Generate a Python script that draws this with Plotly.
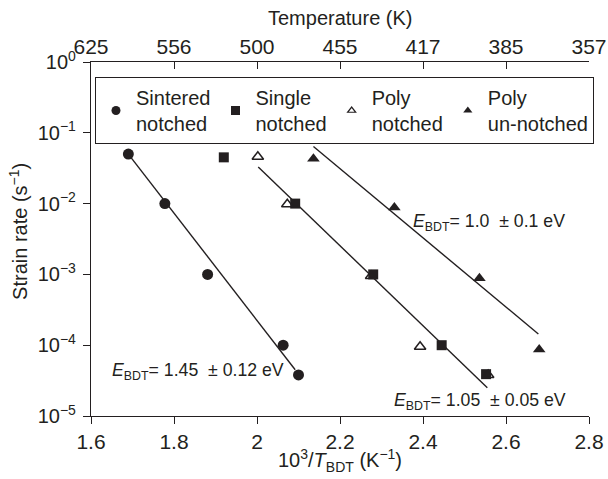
import plotly.graph_objects as go

# ---------------- data ----------------
sint_x = [1.690, 1.778, 1.881, 2.063, 2.100]
sint_y = [0.050, 0.010, 0.0010, 1.0e-4, 3.8e-5]
single_x = [1.920, 2.092, 2.280, 2.445, 2.552]
single_y = [0.045, 0.0100, 0.0010, 1.0e-4, 3.9e-5]
polyn_x = [2.002, 2.073, 2.275, 2.393, 2.557]
polyn_y = [0.046, 0.0098, 9.5e-4, 9.5e-5, 3.8e-5]
polyu_x = [2.136, 2.331, 2.536, 2.680]
polyu_y = [0.043, 0.0088, 8.8e-4, 8.7e-5]

# fitted lines (end points)
sint_fit_x = [1.690, 2.092]
sint_fit_y = [0.050, 4.5e-5]
single_fit_x = [2.003, 2.555]
single_fit_y = [0.033, 2.5e-5]
polyu_fit_x = [2.136, 2.678]
polyu_fit_y = [0.064, 1.44e-4]

x_ticks = [1.6, 1.8, 2.0, 2.2, 2.4, 2.6, 2.8]
x_ticktext = ["1.6", "1.8", "2", "2.2", "2.4", "2.6", "2.8"]
temp_ticktext = ["625", "556", "500", "455", "417", "385", "357"]
y_ticks = [1e-5, 1e-4, 1e-3, 1e-2, 1e-1, 1e0]
y_ticktext = ["10<sup>\u22125</sup>", "10<sup>\u22124</sup>", "10<sup>\u22123</sup>",
              "10<sup>\u22122</sup>", "10<sup>\u22121</sup>", "10<sup>0</sup>"]

labels = ["Sintered<br>notched", "Single<br>notched", "Poly<br>notched", "Poly<br>un-notched"]

FONT = "Liberation Sans, Arial, sans-serif"
BLACK = "#231f20"

fig = go.Figure()

# fit lines
for fx, fy in [(sint_fit_x, sint_fit_y), (single_fit_x, single_fit_y), (polyu_fit_x, polyu_fit_y)]:
    fig.add_trace(go.Scatter(x=fx, y=fy, mode="lines", line=dict(color=BLACK, width=1.4),
                             showlegend=False, hoverinfo="skip"))

# data markers
series = [
    (sint_x, sint_y, "circle", 11, BLACK, 0),
    (single_x, single_y, "square", 10, BLACK, 0),
    (polyn_x, polyn_y, "triangle-up-open", 10, BLACK, 1.5),
    (polyu_x, polyu_y, "triangle-up", 11, BLACK, 0),
]
for (sx, sy, sym, sz, col, lw) in series:
    fig.add_trace(go.Scatter(x=sx, y=sy, mode="markers",
                             marker=dict(symbol=sym, size=sz, color=col,
                                         line=dict(color=BLACK, width=lw)),
                             showlegend=False))

# legend-only entries
leg_sizes = [9, 9, 7, 8]
for (sx, sy, sym, sz, col, lw), lab, ls in zip(series, labels, leg_sizes):
    fig.add_trace(go.Scatter(x=[None], y=[None], mode="markers", name=lab,
                             marker=dict(symbol=sym, size=ls, color=col,
                                         line=dict(color=BLACK, width=1.2 if lw else 0))))

# dummy trace for top axis
fig.add_trace(go.Scatter(x=[x_ticks[0]], y=[1e-5], xaxis="x2", mode="markers",
                         marker=dict(opacity=0), showlegend=False, hoverinfo="skip"))

ann_font = dict(family=FONT, size=17.7, color=BLACK)
annotations = [
    dict(x=2.371, y=-2.27, text="<i>E</i><sub>BDT</sub>= 1.0\u00a0\u00a0\u00b1 0.1 eV"),
    dict(x=1.646, y=-4.374, text="<i>E</i><sub>BDT</sub>= 1.45\u00a0\u00a0\u00b1 0.12 eV"),
    dict(x=2.326, y=-4.80, text="<i>E</i><sub>BDT</sub>= 1.05\u00a0\u00a0\u00b1 0.05 eV"),
]
for a in annotations:
    a.update(xref="x", yref="y", xanchor="left", yanchor="middle", showarrow=False, font=ann_font)

title_font = dict(family=FONT, size=20, color=BLACK)
annotations += [
    dict(text="10<sup>3</sup>/<i>T</i><sub>BDT</sub> (K<sup>\u22121</sup>)", xref="paper", yref="paper",
         x=0.5, y=0, yshift=-44, xanchor="center", yanchor="middle", showarrow=False, font=title_font),
    dict(text="Temperature (K)", xref="paper", yref="paper",
         x=0.5, y=1, yshift=44, xanchor="center", yanchor="middle", showarrow=False, font=title_font),
    dict(text="Strain rate (s<sup>\u22121</sup>)", xref="paper", yref="paper", textangle=-90,
         x=0, xshift=-72, y=0.52, xanchor="center", yanchor="middle", showarrow=False, font=title_font),
]

axis_common = dict(showline=True, linecolor=BLACK, linewidth=1.3,
                   tickwidth=1.3, tickcolor=BLACK, ticklen=7,
                   showgrid=False, zeroline=False, automargin=False)

fig.update_layout(
    width=608, height=479,
    margin=dict(l=91, r=19, t=62, b=63, autoexpand=False),
    paper_bgcolor="white", plot_bgcolor="white",
    font=dict(family=FONT, size=18, color=BLACK),
    showlegend=True,
    legend=dict(orientation="h", x=0.008, y=0.9576, xanchor="left", yanchor="top",
                bgcolor="white", bordercolor=BLACK, borderwidth=1,
                font=dict(family=FONT, size=20, color=BLACK),
                valign="middle", itemclick=False, itemwidth=30),
    xaxis=dict(range=[1.6, 2.8], tickvals=x_ticks, ticktext=x_ticktext,
               mirror=False, ticks="outside", tickfont=dict(size=21), **axis_common),
    xaxis2=dict(range=[1.6, 2.8], overlaying="x", side="top", anchor="y",
                tickvals=x_ticks, ticktext=temp_ticktext, ticklabelstandoff=-2,
                ticks="inside", tickfont=dict(size=21), **axis_common),
    yaxis=dict(type="log", range=[-5, 0], tickvals=y_ticks, ticktext=y_ticktext,
               ticklabelstandoff=3,
               mirror=False, ticks="outside", tickfont=dict(size=20), **axis_common),
    annotations=annotations,
)

fig.write_html("out.html", config={"displayModeBar": False},
               post_script="document.body.style.margin='0';")
